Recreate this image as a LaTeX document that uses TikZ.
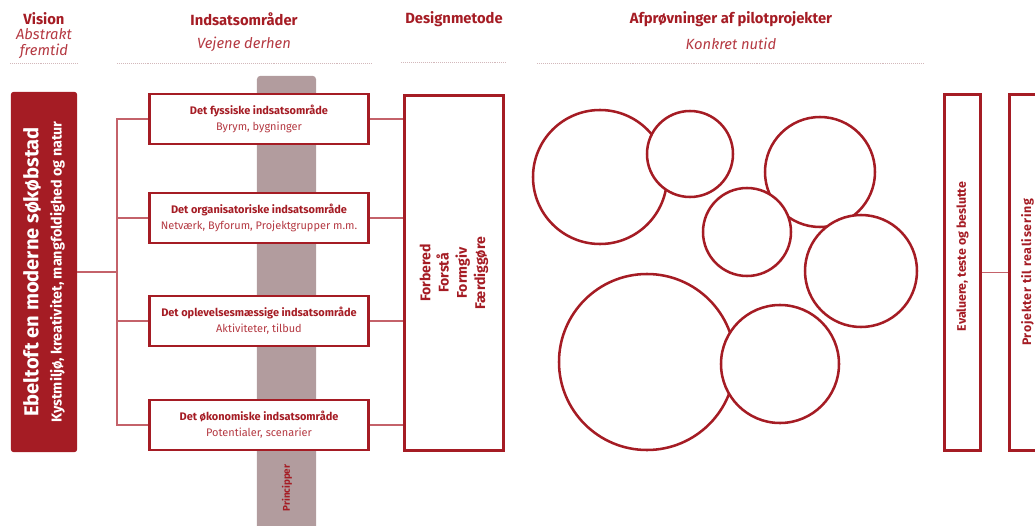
\documentclass[tikz,border=0pt]{standalone}
\usepackage{fontspec}
\setmainfont{Fira Sans}
\usepackage{tikz}
\definecolor{brick}{HTML}{A51C24}
\definecolor{brickl}{HTML}{B53A43}
\definecolor{wirec}{HTML}{C4626A}
\definecolor{pillar}{HTML}{B29C9E}
\definecolor{dots}{HTML}{D3B8BB}
\tikzset{
  area/.style={draw=brick, fill=white, line width=2.1pt, minimum width=5.475cm, minimum height=1.25cm, align=center, inner sep=0pt, text=brickl, font=\fontsize{7.8}{11.5}\selectfont},
  tall/.style={draw=brick, fill=white, line width=2.1pt, rotate=90, minimum width=8.9cm, minimum height=0.9cm, inner sep=0pt, text=brick, font=\bfseries\fontsize{8.8}{10}\selectfont},
  visionbox/.style={fill=brick, rounded corners=0.06cm, rotate=90, minimum width=9cm, minimum height=1.65cm, align=center, inner sep=0pt, text=white, font=\bfseries\fontsize{10.2}{16.5}\selectfont},
  pillarbox/.style={fill=pillar, rounded corners=0.08cm, minimum width=1.475cm, minimum height=11.6cm, inner sep=0pt},
  wire/.style={draw=wirec, line width=0.8pt},
  head/.style={text=brick, font=\bfseries\fontsize{10.5}{12}\selectfont},
  sub/.style={text=brickl, align=center, font=\itshape\fontsize{10.5}{11.4}\selectfont},
  rule/.style={draw=dots, line width=0.7pt, dash pattern=on 0.7pt off 0.7pt},
  ring/.style={draw=brick, fill=white, line width=1.8pt},
}
\begin{document}
\begin{tikzpicture}[x=0.025cm, y=-0.025cm]
  \useasboundingbox (0,0) rectangle (1035,526);
  % headings
  \node[head] (hvision) at (44,19) {Vision};
  \node[sub] (svision) at (44,44) {Abstrakt\\fremtid};
  \node[head] (hindsats) at (244,19) {Indsatsområder};
  \node[sub] (sindsats) at (244,44) {Vejene derhen};
  \node[head] (hdesign) at (454,19) {Designmetode};
  \node[head] (hpilot) at (731,19) {Afprøvninger af pilotprojekter};
  \node[sub] (spilot) at (731,44) {Konkret nutid};
  \draw[rule] (10,63) -- (78,63);
  \draw[rule] (117,63) -- (371,63);
  \draw[rule] (401,62) -- (507,62);
  \draw[rule] (537,63) -- (923,63);
  % principles bar behind the areas
  \node[pillarbox] (bar) at (286.5,308) {};
  \node[text=brick, rotate=90, font=\bfseries\fontsize{7}{8}\selectfont] (princ) at (287,488) {Principper};
  % vision
  \node[visionbox] (vision) at (44,272) {{\fontsize{14.3}{16}\selectfont Ebeltoft en moderne søkøbstad}\\Kystmiljø, kreativitet, mangfoldighed og natur};
  % areas
  \node[area] (fys) at (259,119) {\textbf{\color{brick}Det fyssiske indsatsområde}\\Byrym, bygninger};
  \node[area] (org) at (259,218) {\textbf{\color{brick}Det organisatoriske indsatsområde}\\Netværk, Byforum, Projektgrupper m.m.};
  \node[area] (opl) at (259,321) {\textbf{\color{brick}Det oplevelsesmæssige indsatsområde}\\Aktiviteter, tilbud};
  \node[area] (oek) at (259,425) {\textbf{\color{brick}Det økonomiske indsatsområde}\\Potentialer, scenarier};
  % design method
  \node[tall, minimum width=8.875cm, minimum height=2.475cm, align=center, font=\bfseries\fontsize{10}{13}\selectfont] (design) at (454,273) {Forbered\\Forstå\\Formgiv\\Færdiggøre};
  % evaluation and realisation
  \node[tall] (eval) at (962.5,272.5) {\hspace*{0.8cm}Evaluere, teste og beslutte};
  \node[tall] (proj) at (1027.5,272.5) {\addfontfeature{LetterSpace=6}Projekter til realisering};
  % connectors
  \coordinate (fork) at (117,272);
  \draw[wire] (vision) -- (fork);
  \foreach \b in {fys,org,opl,oek} {
    \draw[wire] (\b.west) -| (fork);
    \draw[wire] (\b.east) -- (\b.east -| design.north);
  }
  \draw[wire] (eval) -- (proj);
  % pilot projects
  \foreach \x/\y/\r in {600/177/67,690/154/43,820/172/55,747/232/44,861/271/56,647/362/88,780/364/59}
    \draw[ring] (\x,\y) circle (\r);
\end{tikzpicture}
\end{document}
